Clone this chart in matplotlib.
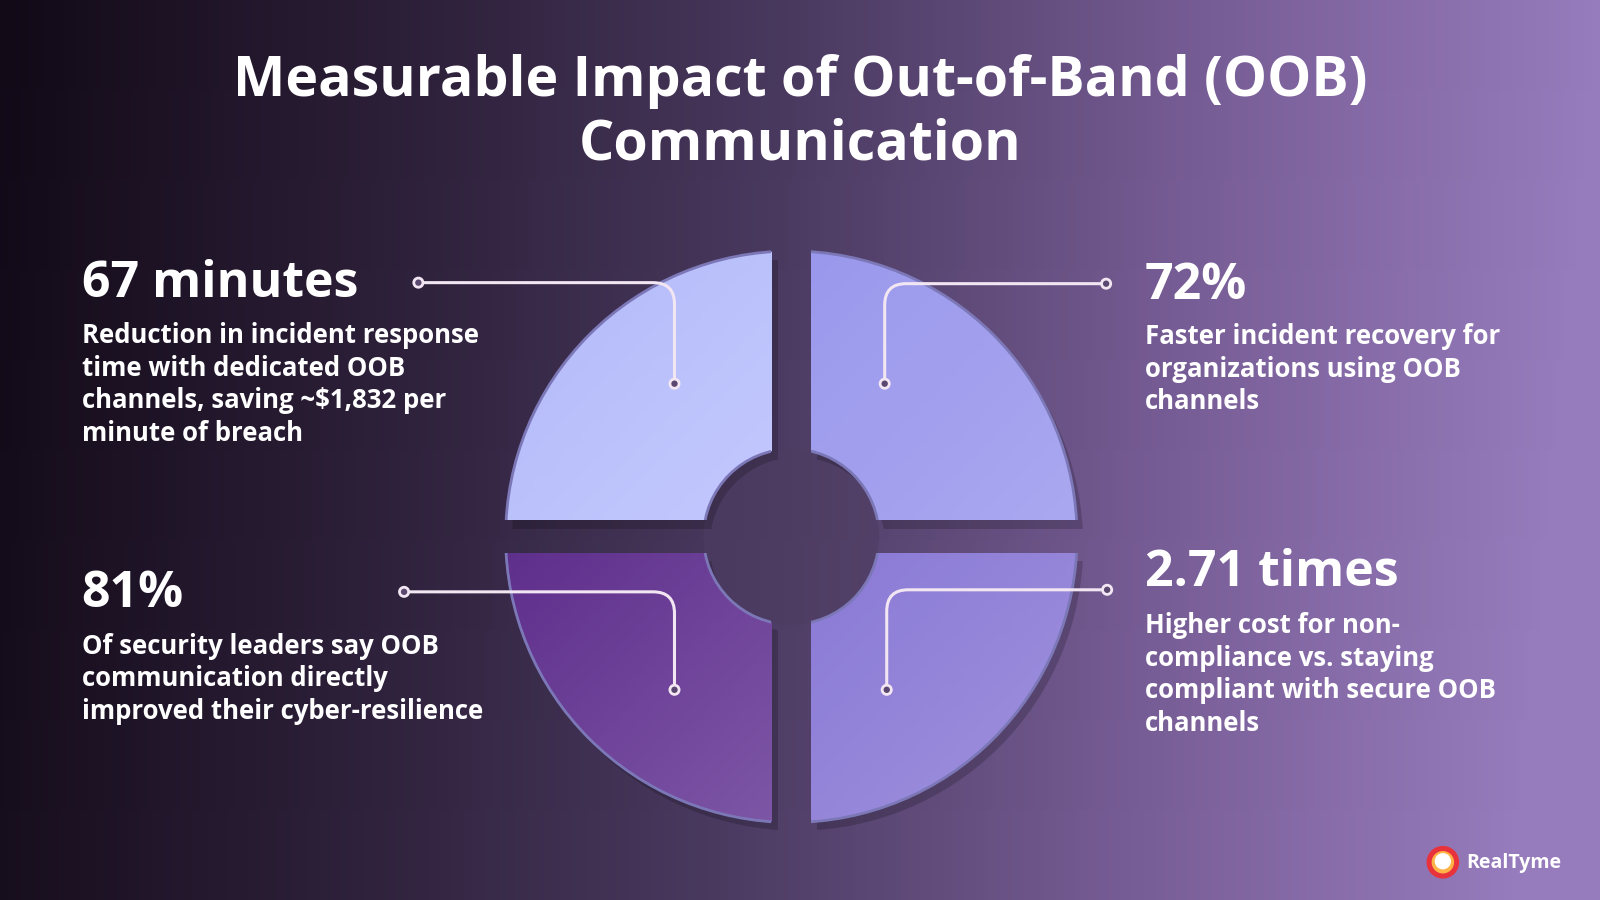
import numpy as np
import matplotlib.pyplot as plt
from matplotlib.patches import Wedge, Rectangle, Circle, Path, PathPatch
from matplotlib.colors import LinearSegmentedColormap

W, H = 1568, 882
title = "Measurable Impact of Out-of-Band (OOB)\nCommunication"
stat_values = ["67 minutes", "72%", "81%", "2.71 times"]
stat_texts = [
    "Reduction in incident response\ntime with dedicated OOB\nchannels, saving ~$1,832 per\nminute of breach",
    "Faster incident recovery for\norganizations using OOB\nchannels",
    "Of security leaders say OOB\ncommunication directly\nimproved their cyber-resilience",
    "Higher cost for non-\ncompliance vs. staying\ncompliant with secure OOB\nchannels",
]
quad_colors = [("#b3b9f8", "#c3c9fe"), ("#9a98ec", "#aaa8f0"),
               ("#5f2f8c", "#7d56a6"), ("#8a7ad6", "#a092de")]

FONT = "Open Sans"
fig = plt.figure(figsize=(16, 9), dpi=100)
ax = fig.add_axes([0, 0, 1, 1])
ax.set_xlim(0, W)
ax.set_ylim(H, 0)
ax.axis("off")

# background gradient
bg = LinearSegmentedColormap.from_list("bg", ["#120a17", "#2c1f38", "#4a3a60", "#765c94", "#977cbd"])
g = np.linspace(0, 1, 400)[None, :] * np.ones((10, 1))
g = g + np.linspace(0, 0.05, 10)[:, None]
ax.imshow(g, cmap=bg, extent=(0, W, H, 0), aspect="auto", vmin=0, vmax=1, zorder=0)

cx, cy = 775.5, 526
r_out, r_in = 280, 86
gx, gy = 19.5, 16
ax.add_patch(Circle((cx, cy), r_in, facecolor="#4e3d62", alpha=0.6, zorder=0.5))
quads = [(90, 180, -1, -1), (0, 90, 1, -1), (180, 270, -1, 1), (270, 360, 1, 1)]
for (t1, t2, sx, sy), (c1, c2) in zip(quads, quad_colors):
    a1, a2 = -t2, -t1
    x0 = cx + sx * gx if sx > 0 else cx - r_out - 5
    x1 = cx + r_out + 5 if sx > 0 else cx - gx
    y0 = cy + sy * gy if sy > 0 else cy - r_out - 5
    y1 = cy + r_out + 5 if sy > 0 else cy - gy
    clip = Rectangle((x0, y0), x1 - x0, y1 - y0, transform=ax.transData)
    # shadow
    sh = Wedge((cx + 6, cy + 8), r_out, a1, a2, width=r_out - r_in, facecolor="#000000", alpha=0.18, zorder=1)
    ax.add_patch(sh)
    sh.set_clip_path(Rectangle((x0 + 6, y0 + 8), x1 - x0, y1 - y0, transform=ax.transData))
    w = Wedge((cx, cy), r_out, a1, a2, width=r_out - r_in, facecolor="none",
              edgecolor="#7c78b8", lw=2, zorder=3)
    ax.add_patch(w)
    w.set_clip_path(clip)
    cm = LinearSegmentedColormap.from_list("q", [c1, c2])
    grad = np.add.outer(np.linspace(0, 1, 50), np.linspace(0, 1, 50)) / 2
    im = ax.imshow(grad, cmap=cm, extent=(x0, x1, y1, y0), aspect="auto", zorder=2)
    fill = Wedge((cx, cy), r_out, a1, a2, width=r_out - r_in, transform=ax.transData)
    im.set_clip_path(fill)

# connectors: (line end x, y, elbow x, dot y)
conn = [(410, 277, 661, 376), (1084, 278, 867, 376), (396, 580, 661, 676), (1085, 578, 869, 676)]
lc = "#f3e6f3"
for xe, y, xk, yd in conn:
    r = 21
    s = 1 if xk > xe else -1
    verts = [(xe, y), (xk - s * r, y), (xk, y), (xk, y + r), (xk, yd)]
    codes = [Path.MOVETO, Path.LINETO, Path.CURVE3, Path.CURVE3, Path.LINETO]
    ax.add_patch(PathPatch(Path(verts, codes), facecolor="none", edgecolor=lc, lw=2.2, zorder=5))
    for px, py in [(xe, y), (xk, yd)]:
        ax.add_patch(Circle((px, py), 4.5, facecolor="#5a4870", edgecolor=lc, lw=2, zorder=6))

ax.text(784, 111, title, ha="center", va="center", color="white", fontsize=40,
        fontweight="bold", family=FONT, linespacing=1.2)

pos = [(80, 278, 316), (1122, 280, 317), (80, 582, 620), (1122, 562, 600)]
for (x, yv, yt), v, t in zip(pos, stat_values, stat_texts):
    ax.text(x, yv, v, ha="left", va="center", color="white", fontsize=36,
            fontweight="bold", family=FONT)
    ax.text(x, yt, t, ha="left", va="top", color="white", fontsize=18.5,
            fontweight="bold", family=FONT, linespacing=1.26)

# logo
ax.add_patch(Circle((1414, 845), 16, facecolor="#e8323c", zorder=5))
ax.add_patch(Circle((1414, 845), 11, facecolor="#ffb347", zorder=6))
ax.add_patch(Circle((1414, 844), 8, facecolor="white", zorder=7))
ax.text(1437, 846, "RealTyme", ha="left", va="center", color="white", fontsize=14,
        fontweight="bold", family=FONT)

fig.savefig("out.png", dpi=100)
